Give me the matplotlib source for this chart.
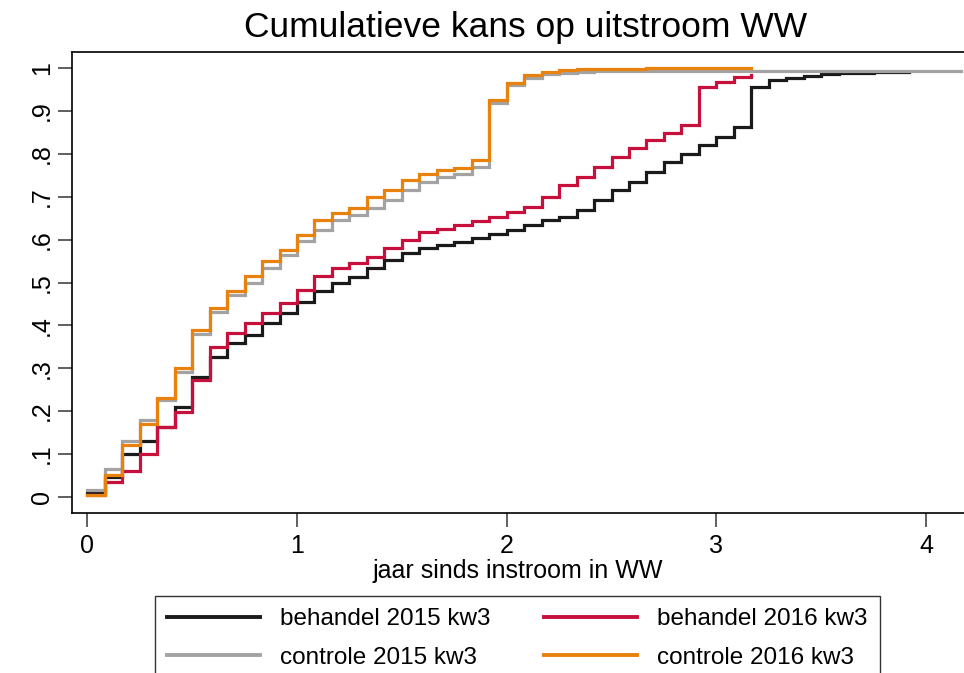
import numpy as np
import matplotlib
matplotlib.use("Agg")
import matplotlib.pyplot as plt

plt.rcParams['font.family'] = ['Liberation Sans', 'DejaVu Sans']

# cumulatieve kans per maand sinds instroom (waarde geldt vanaf begin van de maand)
behandel_2015 = [0.01, 0.047, 0.10, 0.13, 0.163, 0.21, 0.28, 0.327, 0.358, 0.377, 0.405, 0.428,
                 0.455, 0.48, 0.50, 0.514, 0.533, 0.553, 0.568, 0.58, 0.588, 0.595, 0.605, 0.613,
                 0.623, 0.634, 0.646, 0.654, 0.669, 0.693, 0.716, 0.735, 0.759, 0.782, 0.801, 0.821,
                 0.84, 0.862, 0.957, 0.973, 0.978, 0.983, 0.986, 0.988, 0.99, 0.991, 0.992, 0.992]
behandel_2016 = [0.005, 0.035, 0.06, 0.10, 0.163, 0.198, 0.272, 0.35, 0.381, 0.405, 0.428, 0.451,
                 0.482, 0.515, 0.533, 0.546, 0.56, 0.58, 0.60, 0.619, 0.626, 0.634, 0.644, 0.652,
                 0.665, 0.677, 0.70, 0.728, 0.747, 0.77, 0.794, 0.813, 0.833, 0.848, 0.868, 0.957,
                 0.969, 0.98, 0.984]
controle_2015 = [0.015, 0.065, 0.13, 0.18, 0.225, 0.29, 0.38, 0.432, 0.471, 0.498, 0.533, 0.564,
                 0.597, 0.623, 0.646, 0.658, 0.675, 0.693, 0.716, 0.735, 0.747, 0.753, 0.77, 0.92,
                 0.96, 0.978, 0.986, 0.99, 0.992, 0.993, 0.994, 0.994, 0.994, 0.994, 0.994, 0.994,
                 0.994, 0.994, 0.994, 0.994, 0.994, 0.994, 0.994, 0.994, 0.994, 0.994, 0.994, 0.994,
                 0.994, 0.994, 0.994]
controle_2016 = [0.005, 0.05, 0.12, 0.17, 0.23, 0.30, 0.39, 0.44, 0.48, 0.515, 0.55, 0.575,
                 0.61, 0.645, 0.663, 0.675, 0.70, 0.717, 0.739, 0.753, 0.763, 0.768, 0.785, 0.925,
                 0.965, 0.984, 0.992, 0.996, 0.998, 0.999, 0.999, 0.999, 1.0, 1.0, 1.0, 1.0,
                 1.0, 1.0, 1.0]

series = [
    ("behandel 2015 kw3", behandel_2015, "#1a1a1a"),
    ("behandel 2016 kw3", behandel_2016, "#c8103c"),
    ("controle 2015 kw3", controle_2015, "#a3a3a3"),
    ("controle 2016 kw3", controle_2016, "#e8820c"),
]

y_ticks = [0, 0.1, 0.2, 0.3, 0.4, 0.5, 0.6, 0.7, 0.8, 0.9, 1]
y_labels = ["0", ".1", ".2", ".3", ".4", ".5", ".6", ".7", ".8", ".9", "1"]
x_ticks = [0, 1, 2, 3, 4]

fig = plt.figure(figsize=(9.64, 6.73), dpi=100)
ax = fig.add_axes([72 / 964, 1 - 513 / 673, 1 - 72 / 964, (513 - 52) / 673])

lines = {}
for name, vals, col in series:
    maanden = np.arange(len(vals)) / 12
    l, = ax.plot(maanden, vals, drawstyle="steps-post", color=col, linewidth=2.3,
                 solid_joinstyle="miter", label=name)
    lines[name] = l

ax.set_xlim(-0.073, 4.181)
ax.set_ylim(-0.038, 1.038)
ax.set_xticks(x_ticks)
ax.set_yticks(y_ticks)
ax.set_yticklabels(y_labels, rotation=90, va="center")
ax.tick_params(axis="both", labelsize=18, length=10, width=1.2, color="#444444")
ax.tick_params(axis="x", pad=5)
ax.tick_params(axis="y", pad=3)
ax.spines["right"].set_visible(False)
for s in ["left", "bottom", "top"]:
    ax.spines[s].set_linewidth(1.2)

ax.set_xlabel("jaar sinds instroom in WW", fontsize=18, labelpad=1)
fig.text(0.545, 1 - 28 / 673, "Cumulatieve kans op uitstroom WW", fontsize=25.5,
         ha="center", va="center")

order = ["behandel 2015 kw3", "controle 2015 kw3", "behandel 2016 kw3", "controle 2016 kw3"]
leg = fig.legend([lines[n] for n in order], order, ncol=2, loc="upper left",
                 bbox_to_anchor=(155 / 964, 1 - 596 / 673), borderaxespad=0,
                 fontsize=17.5, handlelength=3.8, handletextpad=0.85, columnspacing=2.2,
                 labelspacing=0.68, borderpad=0.5, fancybox=False, frameon=True)
leg.get_frame().set_edgecolor("black")
leg.get_frame().set_linewidth(1.0)
for l in leg.get_lines():
    l.set_linewidth(2.8)

fig.savefig("out.png", dpi=100)
